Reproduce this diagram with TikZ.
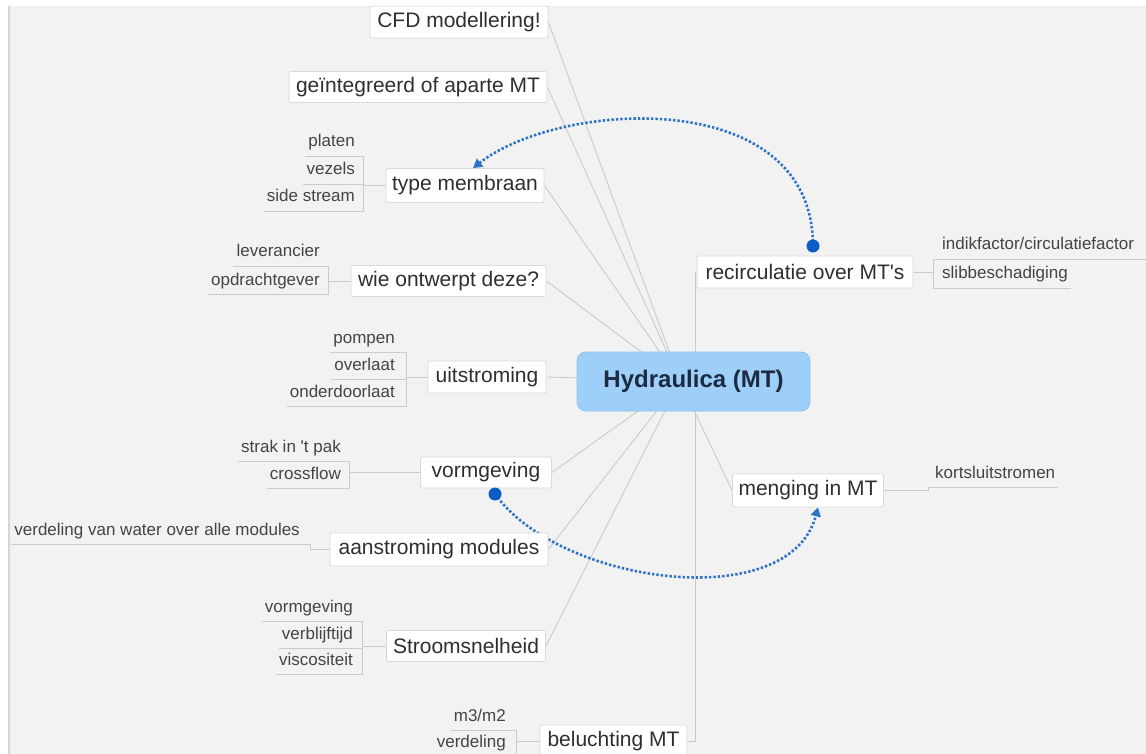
\documentclass[tikz,border=0pt]{standalone}
\usepackage{fontspec}
\setmainfont{Liberation Sans}[Ligatures=TeXOff]
\usetikzlibrary{arrows.meta,calc}
\pgfdeclarelayer{bg}
\pgfdeclarelayer{links}
\pgfsetlayers{bg,links,main}

\definecolor{bgc}{HTML}{F2F2F2}
\definecolor{framec}{HTML}{D6D6D6}
\definecolor{linec}{HTML}{CBCBCB}
\definecolor{topicdraw}{HTML}{DADADA}
\definecolor{txt}{HTML}{2F2F2F}
\definecolor{subtxt}{HTML}{444444}
\definecolor{rootfill}{HTML}{9ECFF9}
\definecolor{rootdraw}{HTML}{8DC2EE}
\definecolor{roottxt}{HTML}{1C2B42}
\definecolor{relc}{HTML}{2F73C6}
\definecolor{dotc}{HTML}{0B5FC4}

\begin{document}
\begin{tikzpicture}[x=1pt,y=-1pt,
  topic/.style={draw=topicdraw, fill=white, rounded corners=2pt, line width=0.8pt,
    text=txt, font=\fontsize{21}{24}\selectfont, inner xsep=6pt, inner ysep=0pt, align=center},
  rootbox/.style={draw=rootdraw, fill=rootfill, rounded corners=9pt, line width=0.8pt,
    text=roottxt, font=\fontsize{24}{28}\selectfont\bfseries, inner sep=0pt,
    minimum width=233pt, minimum height=59pt},
  sub/.style={text=subtxt, font=\fontsize{17}{20}\selectfont, inner xsep=3pt,
    inner ysep=5pt, text height=12pt, text depth=4pt},
  subl/.style={sub, anchor=east},
  subr/.style={sub, anchor=west},
  branch/.style={draw=linec, line width=0.9pt},
  subline/.style={draw=linec, line width=0.8pt},
  rel/.style={draw=relc, line width=2.6pt, dash pattern=on 2.4pt off 2pt,
    -{Triangle[length=9pt,width=10pt]}},
  reldot/.style={circle, fill=dotc, inner sep=0pt, minimum size=13pt},
]
\useasboundingbox (0,0) rectangle (1146,754);

% canvas
\begin{pgfonlayer}{bg}
  \fill[bgc] (0,0) rectangle (1146,754);
  \fill[white] (0,0) rectangle (1146,6);
  \fill[white] (0,0) rectangle (8,754);
  \draw[framec, line width=2pt] (9,6) -- (9,754);
\end{pgfonlayer}

% central topic
\node[rootbox] (root) at (693.5,381.5) {Hydraulica (MT)};
\coordinate (hubL) at (680,381);
\coordinate (hubR) at (695,381);

% main topics
\node[topic, minimum width=178pt, minimum height=32pt] (cfd)    at (459,22)    {CFD modellering!};
\node[topic, minimum width=258pt, minimum height=31pt] (geint)  at (418,87)    {geïntegreerd of aparte MT};
\node[topic, minimum width=158pt, minimum height=34pt] (type)   at (465,185.5) {type membraan};
\node[topic, minimum width=195pt, minimum height=31pt] (wie)    at (448.5,281) {wie ontwerpt deze?};
\node[topic, minimum width=118pt, minimum height=32pt] (uit)    at (487,377)   {uitstroming};
\node[topic, minimum width=131pt, minimum height=31pt] (vorm)   at (486,472.5) {vormgeving};
\node[topic, minimum width=218pt, minimum height=33pt] (aan)    at (439,549.5) {aanstroming modules};
\node[topic, minimum width=159pt, minimum height=31pt] (stroom) at (466,646)   {Stroomsnelheid};
\node[topic, minimum width=147pt, minimum height=32pt] (bel)    at (613.5,741) {beluchting MT};
\node[topic, minimum width=216pt, minimum height=32pt] (recirc) at (805,272)   {recirculatie over MT's};
\node[topic, minimum width=140pt, minimum height=33pt] (meng)   at (808,490.5) {menging in MT};

% subtopics
\node[subl] (platen) at (358,143) {platen};
\node[subl] (vezels) at (358,171) {vezels};
\node[subl] (side)   at (358,198) {side stream};
\coordinate (spA) at (363,0);

\node[subl] (lev)  at (323,253) {leverancier};
\node[subl] (opdr) at (323,281) {opdrachtgever};
\coordinate (spB) at (328,0);

\node[subl] (pomp) at (398,339) {pompen};
\node[subl] (over) at (398,366) {overlaat};
\node[subl] (onder) at (398,393) {onderdoorlaat};
\coordinate (spC) at (406,0);

\node[subl] (strak) at (344,448) {strak in 't pak};
\node[subl] (cross) at (344,475) {crossflow};
\coordinate (spD) at (349,0);

\node[subl] (verdw) at (303,531) {verdeling van water over alle modules};
\coordinate (spE) at (310,0);

\node[subl] (vormg) at (356,608) {vormgeving};
\node[subl] (verbl) at (356,635) {verblijftijd};
\node[subl] (visc)  at (356,661) {viscositeit};
\coordinate (spF) at (362,0);

\node[subl] (m3) at (509,717) {m3/m2};
\node[subl] (verd) at (509,743) {verdeling};
\coordinate (spG) at (516,0);

\node[subr] (indik) at (939,246) {indikfactor/circulatiefactor};
\node[subr] (slib)  at (939,275) {slibbeschadiging};
\coordinate (spH) at (933,0);

\node[subr] (korts) at (932,474) {kortsluitstromen};
\coordinate (spI) at (928,0);

% connectors
\begin{pgfonlayer}{links}
  % branches from the central topic
  \draw[branch] (hubL) -- (cfd.east);
  \draw[branch] (hubL) -- (geint.east);
  \draw[branch] (hubL) -- (type.east);
  \draw[branch] (hubL) -- (wie.east);
  \draw[branch] (hubL) -- (uit.east);
  \draw[branch] (hubL) -- (vorm.east);
  \draw[branch] (hubL) -- (aan.east);
  \draw[branch] (hubL) -- (stroom.east);
  \draw[branch] (hubL) -- (meng.west);
  \draw[branch] (hubR) -- (hubR |- recirc.west) -- (recirc.west);
  \draw[branch] (hubR) -- (hubR |- bel.east) -- (bel.east);

  % subtopic underlines and spines
  \draw[subline] (platen.south west) -- (platen.south -| spA) -- (side.south -| spA) -- (side.south west);
  \draw[subline] (vezels.south west) -- (vezels.south -| spA);
  \draw[subline] (type.west) -- (type.west -| spA);

  \draw[subline] (lev.south west) -- (lev.south -| spB) -- (opdr.south -| spB) -- (opdr.south west);
  \draw[subline] (wie.west) -- (wie.west -| spB);

  \draw[subline] (pomp.south west) -- (pomp.south -| spC) -- (onder.south -| spC) -- (onder.south west);
  \draw[subline] (over.south west) -- (over.south -| spC);
  \draw[subline] (uit.west) -- (uit.west -| spC);

  \draw[subline] (strak.south west) -- (strak.south -| spD) -- (cross.south -| spD) -- (cross.south west);
  \draw[subline] (vorm.west) -- (vorm.west -| spD);

  \draw[subline] (verdw.south west) -- (verdw.south -| spE) -- (aan.west -| spE) -- (aan.west);

  \draw[subline] (vormg.south west) -- (vormg.south -| spF) -- (visc.south -| spF) -- (visc.south west);
  \draw[subline] (verbl.south west) -- (verbl.south -| spF);
  \draw[subline] (stroom.west) -- (stroom.west -| spF);

  \draw[subline] (m3.south west) -- (m3.south -| spG) -- (verd.south -| spG) -- (verd.south west);
  \draw[subline] (bel.west) -- (bel.west -| spG);

  \draw[subline] (indik.south -| spH) -- (1146,0 |- indik.south);
  \draw[subline] (indik.south -| spH) -- (slib.south -| spH) -- (slib.south east);
  \draw[subline] (recirc.east) -- (recirc.east -| spH);

  \draw[subline] (meng.east) -- (meng.east -| spI) -- (korts.south -| spI) -- (korts.south east);

  % relationships
  \draw[rel] (813,246) .. controls (813,85) and (560,100) .. ([xshift=8pt]type.north);
  \draw[rel] (495,494) .. controls (560,585) and (790,615) .. ([xshift=10pt]meng.south);
\end{pgfonlayer}

\node[reldot] (d1) at (813,246) {};
\node[reldot] (d2) at (495,494) {};
\end{tikzpicture}
\end{document}
